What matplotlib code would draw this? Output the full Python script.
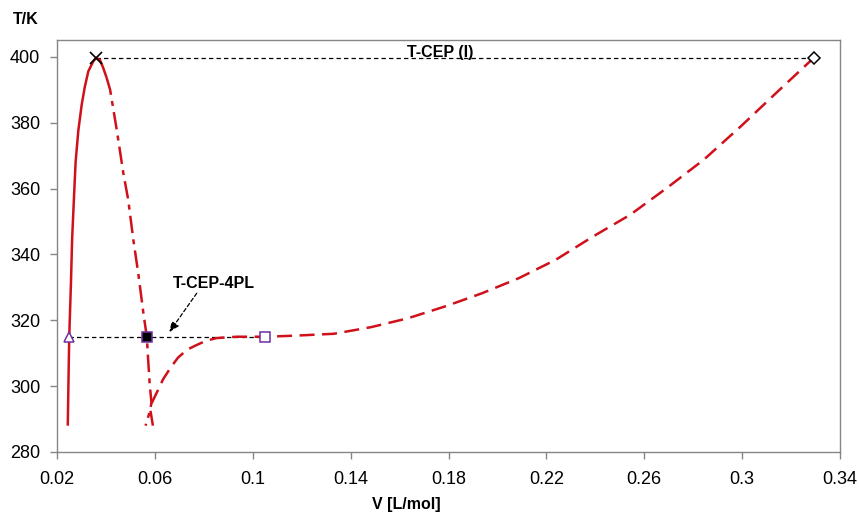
import matplotlib.pyplot as plt

plt.rcParams['font.family'] = ['Liberation Sans', 'DejaVu Sans']

# stable branch (solid), rising to the critical endpoint and just past it
v_solid = [0.0244, 0.0247, 0.0250, 0.0257, 0.0262, 0.0269, 0.0276, 0.0287, 0.0301,
           0.0314, 0.0328, 0.0348, 0.0360, 0.0376, 0.0389, 0.0403]
t_solid = [288.0, 302.0, 315.0, 331.3, 345.0, 356.6, 368.0, 377.5, 385.5,
           391.0, 395.6, 398.6, 399.7, 399.0, 396.6, 393.6]

# unstable branch (dash-dot) coming down from the critical point
v_dashdot = [0.0403, 0.0417, 0.0444, 0.0471, 0.0491, 0.0512, 0.0532, 0.0553, 0.0567,
             0.0573, 0.0579, 0.0586, 0.0580, 0.0562]
t_dashdot = [393.6, 390.0, 377.9, 364.7, 356.6, 344.4, 334.3, 322.2, 315.0,
             307.4, 300.5, 295.0, 292.5, 288.0]

# metastable/vapour-like branch (dashed) up to T-CEP (I)
v_dashed = [0.0592, 0.0582, 0.0588, 0.0612, 0.0633, 0.0664, 0.0694, 0.0730, 0.0771,
            0.0810, 0.0853, 0.0934, 0.1052, 0.1181, 0.1332, 0.1483, 0.1634, 0.1786,
            0.1937, 0.2088, 0.2239, 0.2390, 0.2542, 0.2693, 0.2844, 0.2995, 0.3146, 0.3293]
t_dashed = [288.0, 292.5, 295.0, 298.7, 302.0, 305.6, 308.6, 311.0, 312.5,
            313.8, 314.6, 315.0, 315.0, 315.35, 315.9, 317.9, 320.6, 324.2,
            328.2, 332.8, 338.4, 345.4, 352.0, 360.2, 368.8, 378.9, 389.5, 399.7]

t_cep = 399.7
v_cep_left, v_cep_right = 0.0360, 0.3293

t_4pl = 315.0
v_4pl = [0.0250, 0.0567, 0.1052]   # triangle, filled square, open square

x_ticks = [0.02, 0.06, 0.10, 0.14, 0.18, 0.22, 0.26, 0.30, 0.34]
x_tick_labels = ['0.02', '0.06', '0.1', '0.14', '0.18', '0.22', '0.26', '0.3', '0.34']
y_ticks = [280, 300, 320, 340, 360, 380, 400]

red = '#D0101A'
purple = '#7030A0'
frame = '#868686'

fig = plt.figure(figsize=(8.59, 5.15), dpi=100)
ax = fig.add_axes([57 / 859, 63 / 515, 783 / 859, 412 / 515])

lw = 1.8
ax.plot(v_solid, t_solid, color=red, lw=lw, solid_capstyle='butt',
        solid_joinstyle='round', zorder=3)
ax.plot(v_dashdot, t_dashdot, color=red, lw=lw, dashes=(7, 2.5, 2, 2.5),
        dash_capstyle='butt', zorder=3)
ax.plot(v_dashed, t_dashed, color=red, lw=lw, dashes=(6, 3),
        dash_capstyle='butt', zorder=3)

# tie lines
ax.plot([v_cep_left, v_cep_right], [t_cep, t_cep], color='black', lw=0.9,
        dashes=(3.5, 2.5), zorder=2)
ax.plot([v_4pl[0], v_4pl[2]], [t_4pl, t_4pl], color='black', lw=0.9,
        dashes=(3.5, 2.5), zorder=2)

# special points
ax.plot(v_cep_left, t_cep, marker='x', ms=9, mew=1.2, color='black', ls='none', zorder=5)
ax.plot(v_cep_right, t_cep, marker='D', ms=6.5, mew=1.1, mfc='white', mec='black',
        ls='none', zorder=5)
ax.plot(v_4pl[0], t_4pl, marker='^', ms=7.5, mew=1.1, mfc='white', mec=purple,
        ls='none', zorder=5)
ax.plot(v_4pl[1], t_4pl, marker='s', ms=7, mew=1.1, mfc='black', mec=purple,
        ls='none', zorder=5)
ax.plot(v_4pl[2], t_4pl, marker='s', ms=7, mew=1.1, mfc='white', mec=purple,
        ls='none', zorder=5)

ax.text(0.1765, 399.9, 'T-CEP (I)', fontsize=11.5, fontweight='bold',
        ha='center', va='baseline')
ax.text(0.0842, 329.8, 'T-CEP-4PL', fontsize=11.5, fontweight='bold',
        ha='center', va='baseline')
ax.annotate('', xy=(0.0659, 316.4), xytext=(0.0771, 328.2),
            arrowprops=dict(arrowstyle='-|>,head_length=0.6,head_width=0.25',
                            color='black', lw=0.9, linestyle=(0, (3, 2)),
                            shrinkA=0, shrinkB=0))

ax.set_xlim(0.02, 0.34)
ax.set_ylim(280, 405.1)
ax.set_xticks(x_ticks)
ax.set_xticklabels(x_tick_labels)
ax.set_yticks(y_ticks)

for side in ['left', 'bottom', 'top', 'right']:
    ax.spines[side].set_color(frame)
    ax.spines[side].set_linewidth(1.0)
ax.tick_params(direction='out', length=5, width=1, color=frame, labelsize=13)
ax.tick_params(axis='x', pad=9)
ax.tick_params(axis='y', pad=7)

fig.text(406 / 859, 1 - 505 / 515, 'V [L/mol]', fontsize=11.5, fontweight='bold',
         ha='center', va='center')
fig.text(26 / 859, 1 - 20 / 515, 'T/K', fontsize=11.5, fontweight='bold',
         ha='center', va='center')

fig.savefig('out.png', dpi=100)
